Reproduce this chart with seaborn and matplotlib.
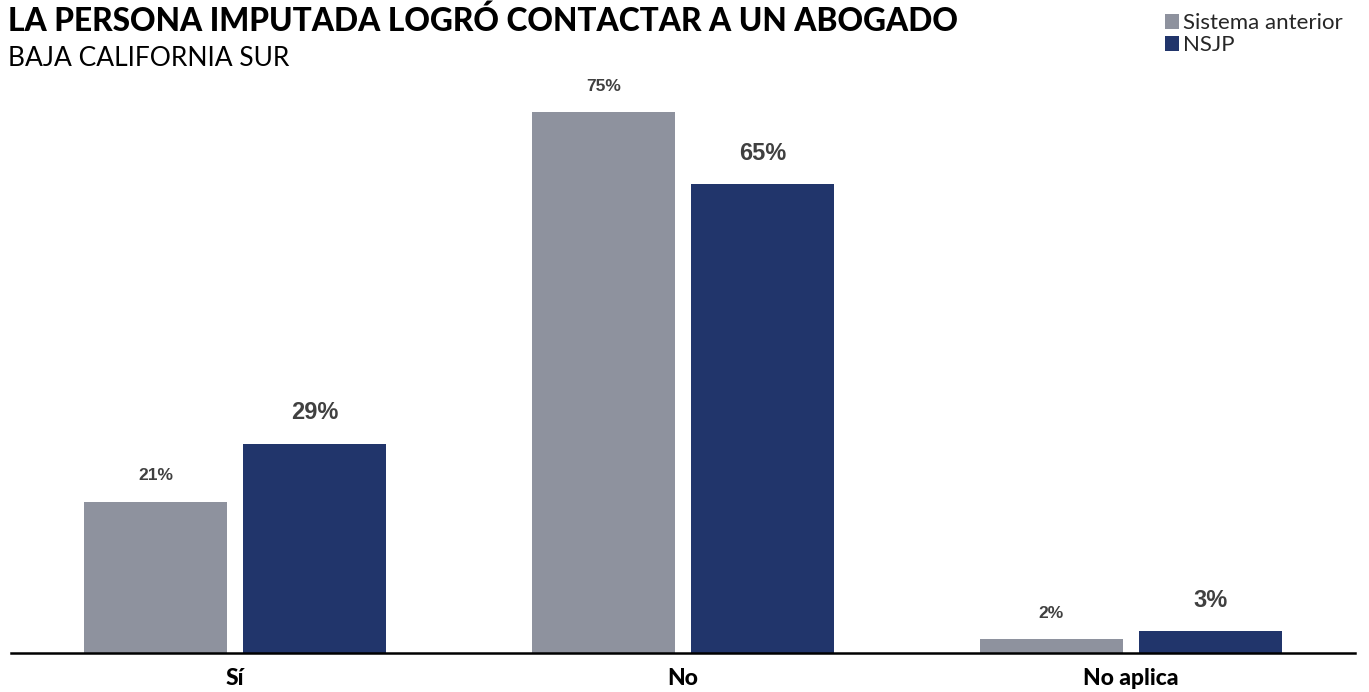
import pandas as pd
import seaborn as sns
import matplotlib.pyplot as plt
from matplotlib.patches import Patch

# Data
categories = ["Sí", "No", "No aplica"]
series = ["Sistema anterior", "NSJP"]
sistema_anterior = [21, 75, 2]
nsjp = [29, 65, 3]
colors = {"Sistema anterior": "#8E929E", "NSJP": "#21356B"}

df = pd.DataFrame({
    "Respuesta": categories * 2,
    "Sistema": [series[0]] * len(categories) + [series[1]] * len(categories),
    "Porcentaje": sistema_anterior + nsjp,
})

sns.set_theme(style="white")
plt.rcParams["font.family"] = ["Lato", "DejaVu Sans"]

W, H = 1369, 692
fig = plt.figure(figsize=(W / 100, H / 100), dpi=100)
ax = fig.add_axes([11 / W, (H - 653) / H, (1355 - 11) / W, (653 - 76) / H])

sns.barplot(
    data=df, x="Respuesta", y="Porcentaje", hue="Sistema",
    order=categories, hue_order=series, palette=colors,
    width=0.71, gap=0.1, saturation=1, legend=False, ax=ax,
    linewidth=0,
)

ax.set_xlim(-0.5, 2.5)
ax.set_ylim(0, 80)

# value labels: small for the old system, larger for NSJP
label_style = [(12.5, 13), (17, 14)]
for cont, vals, (fs, pad) in zip(ax.containers, [sistema_anterior, nsjp], label_style):
    ax.bar_label(cont, labels=[f"{v}%" for v in vals], padding=pad,
                 fontsize=fs, fontweight="bold", color="#404040",
                 family=["Liberation Sans", "DejaVu Sans"])

for s in ["left", "right", "top"]:
    ax.spines[s].set_visible(False)
ax.spines["bottom"].set_color("black")
ax.spines["bottom"].set_linewidth(1.8)
ax.set_yticks([])
ax.set_xlabel("")
ax.set_ylabel("")
ax.tick_params(axis="x", length=0, pad=11)
for t in ax.get_xticklabels():
    t.set_fontsize(16.5)
    t.set_fontweight("black")
    t.set_color("black")

fig.text(8 / W, 1 - 21 / H, "LA PERSONA IMPUTADA LOGRÓ CONTACTAR A UN ABOGADO",
         fontsize=22.8, fontweight="black", va="center", ha="left", color="black")
fig.text(8 / W, 1 - 58 / H, "BAJA CALIFORNIA SUR",
         fontsize=19, va="center", ha="left", color="black")

handles = [Patch(facecolor=colors[s], edgecolor="none", label=s) for s in series]
fig.legend(handles=handles, loc="upper left", bbox_to_anchor=(1165 / W, 1 - 13 / H),
           frameon=False, fontsize=16, handlelength=0.65, handleheight=0.65,
           handletextpad=0.15, labelspacing=0.1, borderaxespad=0, borderpad=0)

plt.savefig("out.png", dpi=100)
